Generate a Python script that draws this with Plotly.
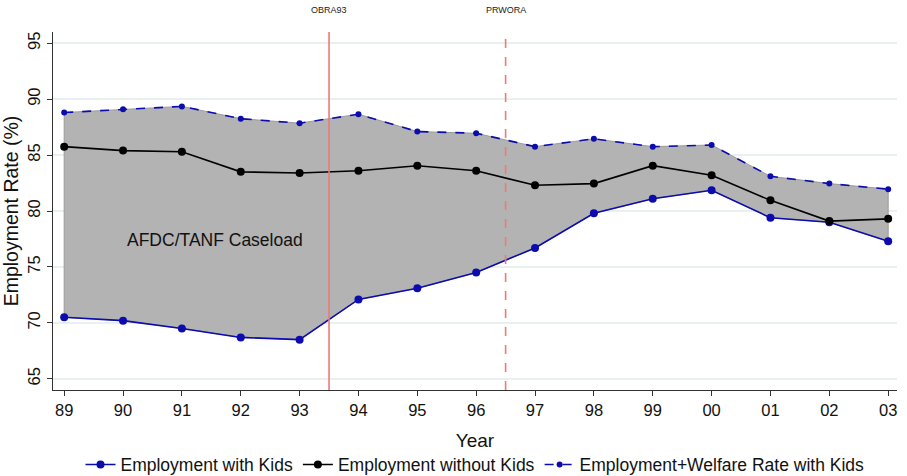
import plotly.graph_objects as go

years = ["89", "90", "91", "92", "93", "94", "95", "96", "97", "98", "99", "00", "01", "02", "03"]
emp_with_kids = [70.5, 70.2, 69.5, 68.7, 68.5, 72.1, 73.1, 74.5, 76.7, 79.8, 81.1, 81.85, 79.4, 79.0, 77.3]
emp_without_kids = [85.75, 85.4, 85.3, 83.5, 83.4, 83.6, 84.05, 83.6, 82.3, 82.45, 84.05, 83.2, 80.95, 79.1, 79.3]
emp_welfare_kids = [88.8, 89.1, 89.35, 88.25, 87.85, 88.65, 87.1, 86.95, 85.75, 86.45, 85.75, 85.9, 83.1, 82.45, 81.95]
policy_labels = ["OBRA93", "PRWORA"]
policy_x = [4.5, 7.5]
policy_dash = ["solid", "dash"]

x = list(range(len(years)))
blue = "#0b0bae"
red = "#f07878"
font_family = "Liberation Sans, Arial, sans-serif"

fig = go.Figure()
# shaded caseload area
fig.add_trace(go.Scatter(x=x, y=emp_with_kids, mode="lines", line=dict(color="#9a9a9a", width=1),
                         showlegend=False, hoverinfo="skip"))
fig.add_trace(go.Scatter(x=x, y=emp_welfare_kids, mode="lines", line=dict(color="#9a9a9a", width=1),
                         fill="tonexty", fillcolor="#b3b3b3", showlegend=False, hoverinfo="skip"))
# vertical edges of the area
fig.add_trace(go.Scatter(x=[x[0], x[0], None, x[-1], x[-1]],
                         y=[emp_with_kids[0], emp_welfare_kids[0], None, emp_with_kids[-1], emp_welfare_kids[-1]],
                         mode="lines", line=dict(color="#9a9a9a", width=1), showlegend=False, hoverinfo="skip"))

fig.add_trace(go.Scatter(x=x, y=emp_with_kids, mode="lines+markers", name="Employment with Kids",
                         line=dict(color=blue, width=1.6), marker=dict(color=blue, size=8)))
fig.add_trace(go.Scatter(x=x, y=emp_without_kids, mode="lines+markers", name="Employment without Kids",
                         line=dict(color="black", width=1.6), marker=dict(color="black", size=8)))
fig.add_trace(go.Scatter(x=x, y=emp_welfare_kids, mode="lines+markers", name="Employment+Welfare Rate with Kids",
                         line=dict(color=blue, width=1.6, dash="dash"), marker=dict(color=blue, size=6)))

for lab, px, d in zip(policy_labels, policy_x, policy_dash):
    fig.add_shape(type="line", xref="x", yref="paper", x0=px, x1=px, y0=0, y1=1,
                  line=dict(color=red, width=1.6, dash=d), layer="above")
    fig.add_annotation(x=px, xref="x", y=1.061, yref="paper", text=lab, showarrow=False,
                       font=dict(size=9, color="#222", family=font_family), yanchor="middle")

fig.add_annotation(x=2.57, y=77.4, xref="x", yref="y", text="AFDC/TANF Caseload", showarrow=False,
                   font=dict(size=17.5, color="#111", family=font_family))

fig.update_layout(
    width=907, height=476,
    margin=dict(l=53, r=10, t=32, b=86, autoexpand=False),
    paper_bgcolor="white", plot_bgcolor="white",
    font=dict(family=font_family, size=16, color="#111"),
    legend=dict(orientation="h", x=0.5, xanchor="center", y=-0.158, yanchor="top",
                font=dict(size=17.5), traceorder="normal"),
    xaxis=dict(range=[-0.19, 14.15], tickmode="array", tickvals=x, ticktext=years,
               showgrid=False, zeroline=False, showline=True, linecolor="#333", linewidth=1.2,
               ticks="outside", ticklen=5, tickcolor="#333", automargin=False,
               title=dict(text="Year", font=dict(size=19)), tickfont=dict(size=16.5)),
    yaxis=dict(range=[64.0, 96.0], tickvals=[65, 70, 75, 80, 85, 90, 95], tickangle=-90,
               showgrid=True, gridcolor="#e8f0f1", gridwidth=1.5, zeroline=False,
               showline=True, linecolor="#333", linewidth=1.2,
               ticks="outside", ticklen=5, tickcolor="#333", automargin=False,
               title=dict(text="Employment Rate (%)", font=dict(size=19.5)), tickfont=dict(size=16.5)),
)

fig.write_html("out.html", post_script="document.body.style.margin='0';",
               config={"displayModeBar": False})
